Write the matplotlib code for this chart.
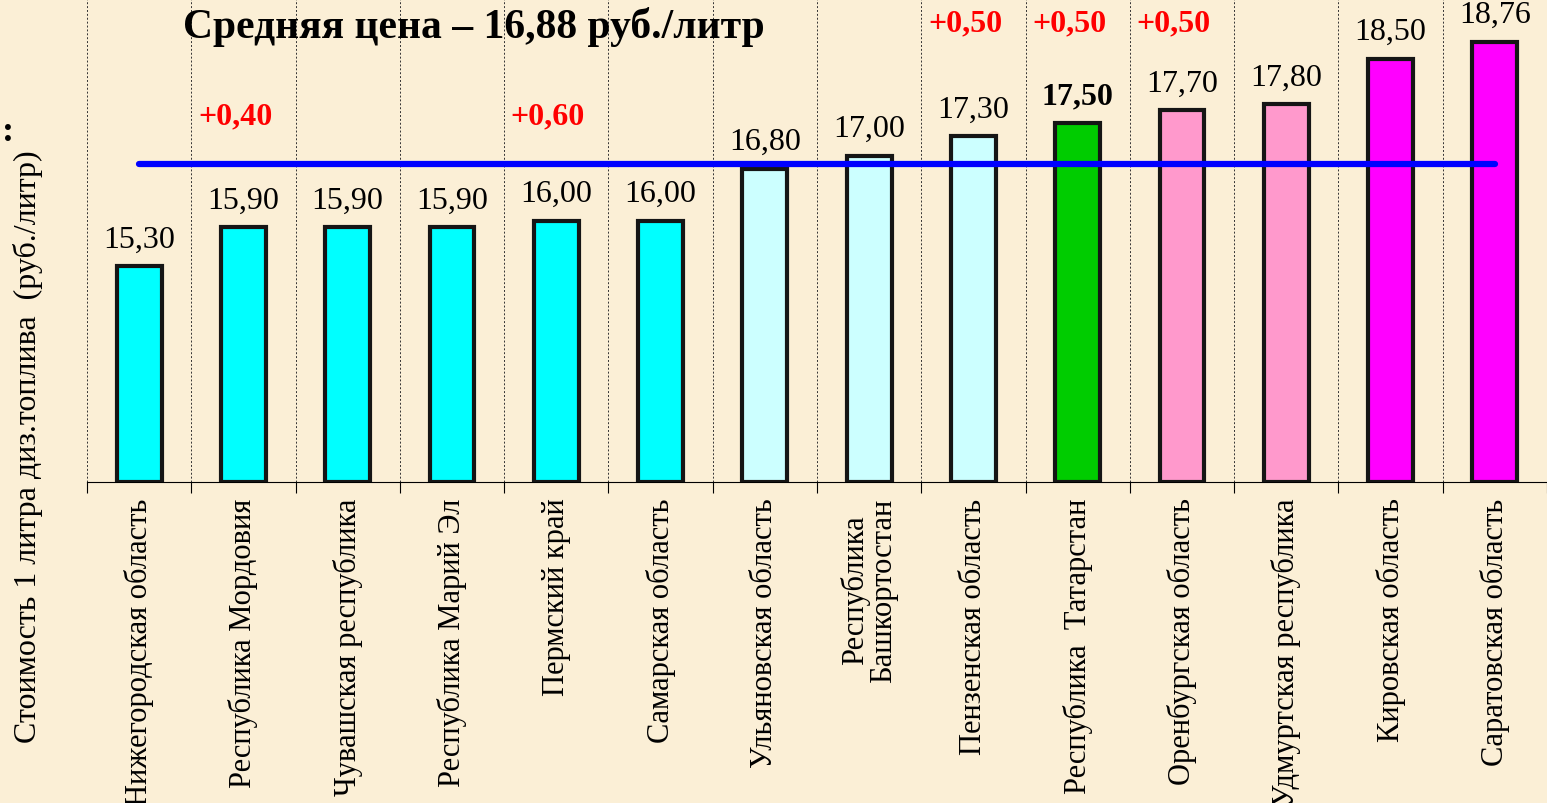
import numpy as np
import matplotlib.pyplot as plt

plt.rcParams['font.family'] = ['Liberation Serif', 'DejaVu Serif']

regions = ['Нижегородская область', 'Республика Мордовия', 'Чувашская республика',
           'Республика Марий Эл', 'Пермский край', 'Самарская область',
           'Ульяновская область', 'Республика\nБашкортостан', 'Пензенская область',
           'Республика  Татарстан', 'Оренбургская область', 'Удмуртская республика',
           'Кировская область', 'Саратовская область']
prices = [15.30, 15.90, 15.90, 15.90, 16.00, 16.00, 16.80, 17.00, 17.30,
          17.50, 17.70, 17.80, 18.50, 18.76]
colors = ['#00FFFF'] * 6 + ['#CCFFFF'] * 3 + ['#00CC00'] + ['#FF99CC'] * 2 + ['#FF00FF'] * 2
avg_price = 16.88
# прирост цены (индекс региона, подпись, высота подписи)
growth_idx = [1, 4, 8, 9, 10]
growth_txt = ['+0,40', '+0,60', '+0,50', '+0,50', '+0,50']
growth_y = [17.62, 17.62, 19.05, 19.05, 19.05]

y_min, y_max = 11.96, 19.42

bg = '#FBEFD6'
fig = plt.figure(figsize=(15.47, 8.04), dpi=100, facecolor=bg)
ax = fig.add_axes([0.0562, 0.399, 0.9438, 0.601], facecolor=bg)

x = np.arange(len(prices))
ax.bar(x, np.array(prices) - y_min, bottom=y_min, width=0.43, color=colors,
       edgecolor='#151515', linewidth=3, zorder=3)

ax.plot([x[0], x[-1]], [avg_price, avg_price], color='#0000FF', lw=4.5,
        solid_capstyle='round', zorder=5)

for i, v in enumerate(prices):
    ax.annotate(f'{v:.2f}'.replace('.', ','), (i, v), xytext=(0, 9),
                textcoords='offset points', ha='center', va='bottom',
                fontsize=23, fontweight='bold' if i == 9 else 'normal', zorder=6)

for i, t, y in zip(growth_idx, growth_txt, growth_y):
    ax.text(i - 0.08, y, t, ha='center', va='center', fontsize=23,
            fontweight='bold', color='#FF0000', zorder=6)

ax.set_xlim(-0.5, len(prices) - 0.5)
ax.set_ylim(y_min, y_max)
ax.set_yticks([])
ax.set_xticks(x)
ax.set_xticklabels(regions, rotation=90, fontsize=22, va='top', ha='center',
                   linespacing=0.95)
ax.tick_params(axis='x', which='major', length=0, pad=11)
ax.set_xticks(np.arange(-0.5, len(prices)), minor=True)
ax.tick_params(axis='x', which='minor', length=8, width=0.8, direction='out')
ax.grid(axis='x', which='minor', color='#333333', lw=0.7, ls=(0, (2, 2)), zorder=1)

for s in ['top', 'right', 'left']:
    ax.spines[s].set_visible(False)
ax.spines['bottom'].set_linewidth(0.8)

ax.text(0.265, 0.945, 'Средняя цена – 16,88 руб./литр', transform=ax.transAxes,
        ha='center', va='center', fontsize=30, fontweight='bold')

fig.text(0.018, 0.445, 'Стоимость 1 литра диз.топлива  (руб./литр)', rotation=90,
         ha='center', va='center', fontsize=23)
fig.text(0.001, 0.835, ':', ha='left', va='center', fontsize=26, fontweight='bold')

fig.savefig('out.png', dpi=100, facecolor=bg)
